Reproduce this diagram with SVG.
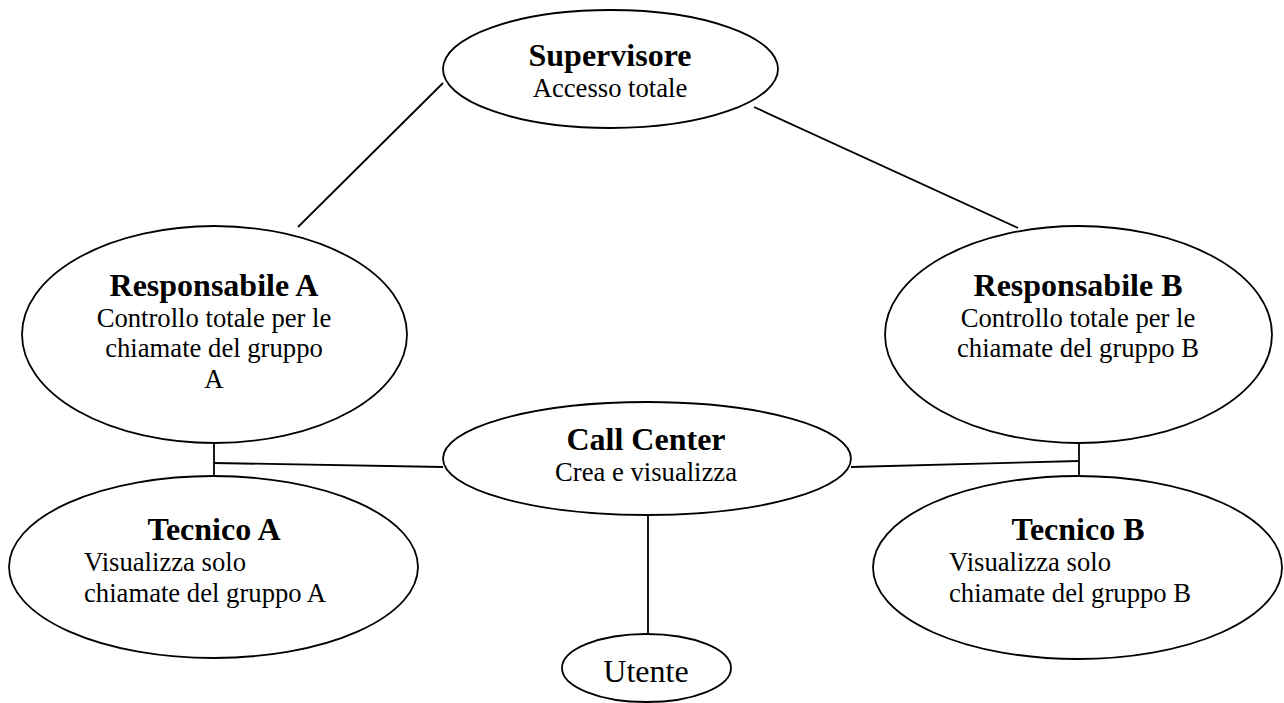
<svg xmlns="http://www.w3.org/2000/svg" width="1284" height="703" viewBox="0 0 1284 703">
<style>
.node{fill:#fff;stroke:#000;stroke-width:1.8}
.conn{stroke:#000;stroke-width:1.8;fill:none}
text{font-family:"Liberation Serif","Times New Roman",serif;fill:#000}
.t{font-size:32px;font-weight:bold;text-anchor:middle}
.d{font-size:26.67px}
.c{text-anchor:middle}
</style>
<rect width="1284" height="703" fill="#fff"/>
<g id="connectors">
<line class="conn" x1="443" y1="83" x2="298" y2="227"/>
<line class="conn" x1="754" y1="107" x2="1018" y2="228"/>
<line class="conn" x1="214" y1="443" x2="214" y2="477"/>
<line class="conn" x1="214" y1="463" x2="443" y2="467"/>
<line class="conn" x1="1079" y1="443" x2="1079" y2="477"/>
<line class="conn" x1="851" y1="467" x2="1079" y2="461"/>
<line class="conn" x1="648" y1="515" x2="648" y2="634"/>
</g>
<g id="supervisore">
<ellipse class="node" cx="610.5" cy="69" rx="167.5" ry="59"/>
<text class="t" x="610" y="66">Supervisore</text>
<text class="d c" x="610" y="97">Accesso totale</text>
</g>
<g id="responsabile-a">
<ellipse class="node" cx="214.5" cy="334.5" rx="192.5" ry="108.5"/>
<text class="t" x="214" y="296">Responsabile A</text>
<text class="d c" x="214" y="327">Controllo totale per le</text>
<text class="d c" x="214" y="357">chiamate del gruppo</text>
<text class="d c" x="214" y="388">A</text>
</g>
<g id="responsabile-b">
<ellipse class="node" cx="1078.5" cy="334.5" rx="193.5" ry="108.5"/>
<text class="t" x="1078" y="296">Responsabile B</text>
<text class="d c" x="1078" y="327">Controllo totale per le</text>
<text class="d c" x="1078" y="357">chiamate del gruppo B</text>
</g>
<g id="call-center">
<ellipse class="node" cx="647" cy="458.5" rx="204" ry="56.5"/>
<text class="t" x="646" y="450">Call Center</text>
<text class="d c" x="646" y="481">Crea e visualizza</text>
</g>
<g id="tecnico-a">
<ellipse class="node" cx="213.5" cy="567" rx="204.5" ry="91"/>
<text class="t" x="214" y="540">Tecnico A</text>
<text class="d" x="84" y="571">Visualizza solo</text>
<text class="d" x="84" y="602">chiamate del gruppo A</text>
</g>
<g id="tecnico-b">
<ellipse class="node" cx="1077.5" cy="567.5" rx="204.5" ry="91.5"/>
<text class="t" x="1078" y="540">Tecnico B</text>
<text class="d" x="949" y="571">Visualizza solo</text>
<text class="d" x="949" y="602">chiamate del gruppo B</text>
</g>
<g id="utente">
<ellipse class="node" cx="646.5" cy="668" rx="84.5" ry="34"/>
<text class="c" x="646" y="682" font-size="32">Utente</text>
</g>
</svg>
